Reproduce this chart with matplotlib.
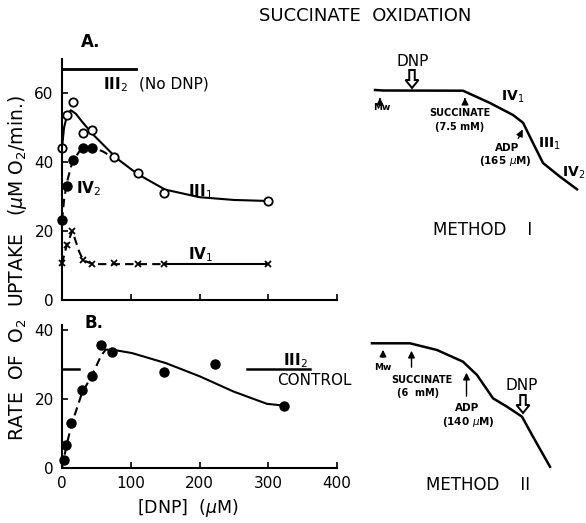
import numpy as np
import matplotlib
matplotlib.use("Agg")
import matplotlib.pyplot as plt

# ---- Panel A data ----
a_open_x = [0, 7, 15.5, 31, 43.5, 76, 110, 149, 300]
a_open_y = [44, 53.6, 57.5, 48.3, 49.3, 41.5, 36.7, 31.1, 28.7]
a_fill_x = [0, 7, 15.5, 31, 44]
a_fill_y = [23.2, 32.9, 40.6, 44, 44]
a_x_x = [0, 7, 15, 31, 43.5, 76, 110, 148, 300]
a_x_y = [10.6, 16, 20, 11.6, 10.3, 10.6, 10.3, 10.5, 10.3]

# hand drawn curves
iii1_cx = [0, 3, 8, 13, 20, 30, 45, 60, 80, 110, 150, 200, 250, 300]
iii1_cy = [44, 50, 54, 55, 54, 51.5, 48, 45, 41, 36.5, 32, 29.8, 29, 28.7]
iv2_cx = [0, 3, 7, 15, 25, 35, 45, 60, 75]
iv2_cy = [23, 29, 34, 40, 43, 44.3, 44.3, 43, 41.2]
iv1_cx = [0, 7, 15, 25, 31, 45, 150]
iv1_cy = [10.5, 16, 20, 14, 11.5, 10.4, 10.4]
iv1_tail_x = [150, 300]
iv1_tail_y = [10.4, 10.4]
iii2_nodnp_x = [0, 108]
iii2_nodnp_y = [67, 67]

# ---- Panel B data ----
b_x = [2.4, 5.8, 13, 29, 43.7, 57, 73, 148.5, 223, 323]
b_y = [2.4, 6.6, 12.9, 22.7, 26.6, 35.6, 33.6, 27.7, 30, 18.1]
b_dash_x = [0, 2.4, 7.3, 14.6, 29, 44, 56.5, 63.4, 73]
b_dash_y = [0, 2.4, 7.2, 13, 21.7, 27, 32.4, 34.3, 34.3]
b_solid_x = [73, 102, 151, 200, 249, 298, 322]
b_solid_y = [34.3, 33.3, 30.4, 26.6, 22.2, 18.6, 18.1]
control_left_x = [0, 24]
control_right_x = [269, 360]
control_y = 28.6

# ---- oxygen electrode traces (pixel units of the original) ----
trace1_x = [375, 383, 463, 490, 513, 523, 533, 543, 560, 577]
trace1_y = [90, 90.5, 90.7, 103, 115, 122.7, 143, 163, 176.7, 189.3]
trace2_x = [372, 410, 437, 463, 477, 493, 507, 522, 533, 550]
trace2_y = [343.3, 343.3, 350, 361.7, 375, 398.3, 406.7, 416.7, 436.7, 466.7]

W, H = 586, 523
fig = plt.figure(figsize=(W / 100, H / 100), dpi=100)

def frac_x(px):
    return px / W

def frac_y(py):
    return 1 - py / H

tick_kw = dict(direction="in", length=4, width=1.2, labelsize=11, pad=6)

# ---- Panel A ----
axA = fig.add_axes([frac_x(62), frac_y(300), (337 - 62) / W, (300 - 58.5) / H])
axA.set_xlim(0, 400)
axA.set_ylim(0, 70)
axA.plot(iii1_cx, iii1_cy, color="black", lw=1.5)
axA.plot(iv2_cx, iv2_cy, color="black", lw=1.5, ls=(0, (4, 2.5)))
axA.plot(iv1_cx, iv1_cy, color="black", lw=1.5, ls=(0, (4, 2.5)))
axA.plot(iv1_tail_x, iv1_tail_y, color="black", lw=1.5)
axA.plot(iii2_nodnp_x, iii2_nodnp_y, color="black", lw=2)
axA.plot(a_open_x, a_open_y, "o", ms=6, mfc="white", mec="black", mew=1.3, clip_on=False)
axA.plot(a_fill_x, a_fill_y, "o", ms=6.5, color="black", clip_on=False)
axA.plot(a_x_x, a_x_y, "x", ms=4.5, mew=1.3, color="black", clip_on=False)
axA.text(59, 62.5, "III$_2$", fontsize=11, fontweight="bold", va="center")
axA.text(112, 62.5, "(No DNP)", fontsize=11, va="center")
axA.text(184, 31.4, "III$_1$", fontsize=11, fontweight="bold", va="center")
axA.text(20, 32.4, "IV$_2$", fontsize=11, fontweight="bold", va="center")
axA.text(184, 13, "IV$_1$", fontsize=11, fontweight="bold", va="center")
axA.text(27, 74.9, "A.", fontsize=12, fontweight="bold", va="center", clip_on=False)
axA.set_xticks([0, 100, 200, 300, 400])
axA.set_xticklabels([])
axA.set_yticks([0, 20, 40, 60])
axA.tick_params(**tick_kw)

# ---- Panel B ----
axB = fig.add_axes([frac_x(62), frac_y(468), (337 - 62) / W, (468 - 324.8) / H])
axB.set_xlim(0, 400)
axB.set_ylim(0, 41.5)
axB.plot(b_dash_x, b_dash_y, color="black", lw=1.5, ls=(0, (4, 2.5)))
axB.plot(b_solid_x, b_solid_y, color="black", lw=1.5)
axB.plot(b_x, b_y, "o", ms=6.5, color="black", clip_on=False)
axB.plot(control_left_x, [control_y] * 2, color="black", lw=1.8)
axB.plot(control_right_x, [control_y] * 2, color="black", lw=1.8, clip_on=False)
axB.text(340, 31.2, "III$_2$", fontsize=11, fontweight="bold", ha="center", va="center")
axB.text(367, 25.5, "CONTROL", fontsize=11, ha="center", va="center", clip_on=False)
axB.text(32, 42, "B.", fontsize=12, fontweight="bold", va="center", clip_on=False)
axB.set_xticks([0, 100, 200, 300, 400])
axB.set_yticks([0, 20, 40])
axB.tick_params(**tick_kw)

for ax in (axA, axB):
    for side in ("top", "right"):
        ax.spines[side].set_visible(False)
    for side in ("left", "bottom"):
        ax.spines[side].set_linewidth(1.5)

# ---- overlay in pixel coordinates: titles, labels, traces ----
ov = fig.add_axes([0, 0, 1, 1], zorder=-1)
ov.set_xlim(0, W)
ov.set_ylim(H, 0)
ov.axis("off")

ov.text(365, 16, "SUCCINATE  OXIDATION", fontsize=13, ha="center", va="center")
ov.text(18, 268, "RATE  OF  O$_2$  UPTAKE   ($\\mu$M O$_2$/min.)", fontsize=13.5,
        rotation=90, ha="center", va="center")
ov.text(188, 508, "[DNP]  ($\\mu$M)", fontsize=12.5, ha="center", va="center")

arrow_small = dict(arrowstyle="-|>,head_length=0.4,head_width=0.2", color="black", lw=1)

def hollow_arrow(x, y_top, y_tip):
    ov.arrow(x, y_top, 0, y_tip - y_top, width=5.5, head_width=13, head_length=8,
             length_includes_head=True, fc="white", ec="black", lw=1.4)

# Method I trace
ov.plot(trace1_x, trace1_y, color="black", lw=1.8)
ov.annotate("", xy=(380, 95), xytext=(380, 102), arrowprops=arrow_small)
ov.text(382, 108, "Mw", fontsize=6.5, fontweight="bold", ha="center", va="center")
ov.annotate("", xy=(465, 95), xytext=(465, 102), arrowprops=arrow_small)
ov.text(460, 113, "SUCCINATE", fontsize=7, fontweight="bold", ha="center", va="center")
ov.text(460, 127, "(7.5 mM)", fontsize=7, fontweight="bold", ha="center", va="center")
ov.text(413, 62, "DNP", fontsize=11, ha="center", va="center")
hollow_arrow(412, 70, 88)
ov.text(513, 97, "IV$_1$", fontsize=10, fontweight="bold", ha="center", va="center")
ov.annotate("", xy=(524, 127), xytext=(517, 141), arrowprops=arrow_small)
ov.text(507, 148, "ADP", fontsize=7.5, fontweight="bold", ha="center", va="center")
ov.text(505, 161, "(165 $\\mu$M)", fontsize=7.5, fontweight="bold", ha="center", va="center")
ov.text(549, 144, "III$_1$", fontsize=10, fontweight="bold", ha="center", va="center")
ov.text(585, 173, "IV$_2$", fontsize=10, fontweight="bold", ha="right", va="center")
ov.text(483, 230, "METHOD    I", fontsize=12, ha="center", va="center")

# Method II trace
ov.plot(trace2_x, trace2_y, color="black", lw=1.8)
ov.annotate("", xy=(383, 347), xytext=(383, 360), arrowprops=arrow_small)
ov.text(383, 367, "Mw", fontsize=6.5, fontweight="bold", ha="center", va="center")
ov.annotate("", xy=(411.5, 348), xytext=(411.5, 370), arrowprops=arrow_small)
ov.text(422, 380, "SUCCINATE", fontsize=7, fontweight="bold", ha="center", va="center")
ov.text(418, 393, "(6  mM)", fontsize=7, fontweight="bold", ha="center", va="center")
ov.annotate("", xy=(466.5, 370), xytext=(466.5, 399), arrowprops=arrow_small)
ov.text(467, 408, "ADP", fontsize=7.5, fontweight="bold", ha="center", va="center")
ov.text(468, 422, "(140 $\\mu$M)", fontsize=7.5, fontweight="bold", ha="center", va="center")
ov.text(522, 385, "DNP", fontsize=11, ha="center", va="center")
hollow_arrow(523, 395, 413)
ov.text(478, 485, "METHOD    II", fontsize=12, ha="center", va="center")

fig.savefig("out.png", dpi=100)
